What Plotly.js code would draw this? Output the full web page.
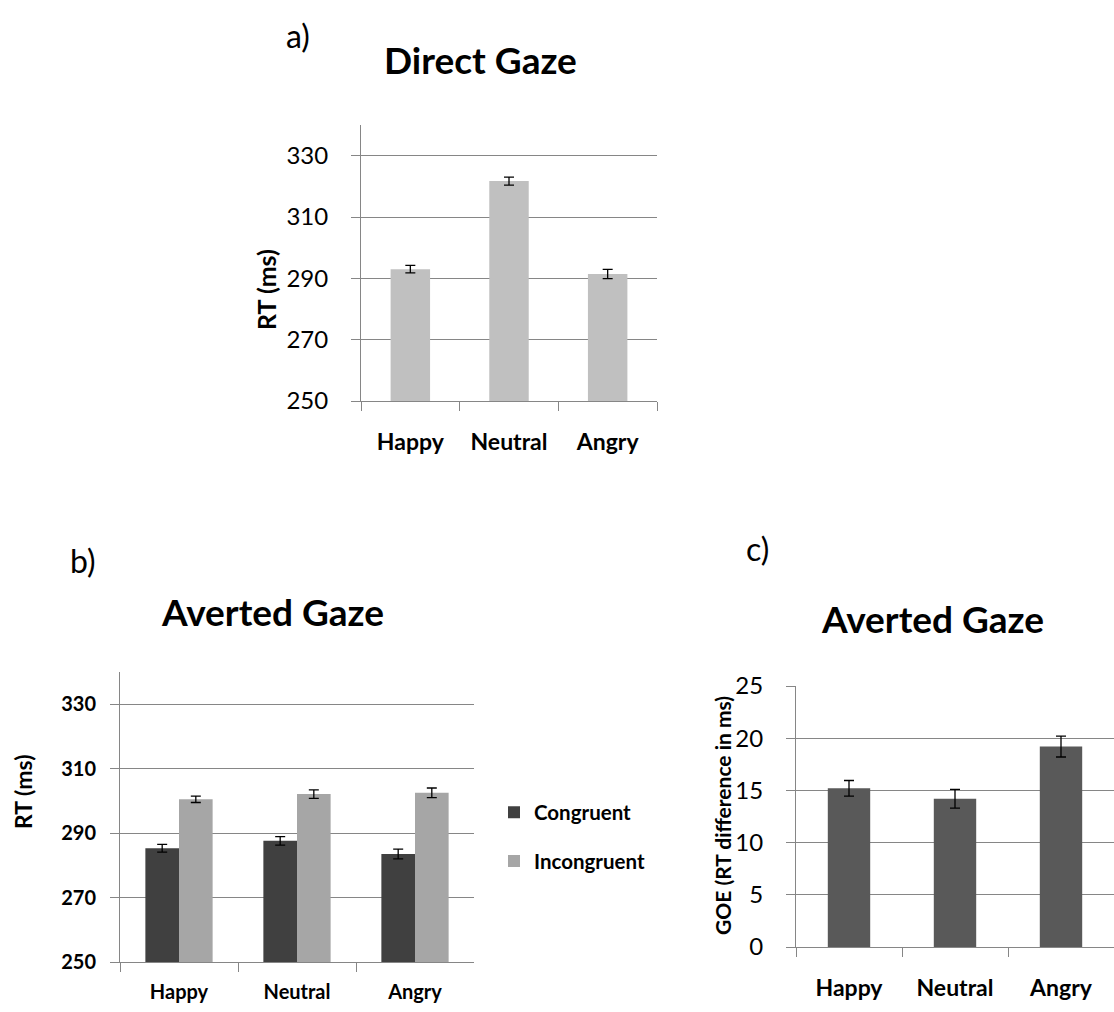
<!DOCTYPE html>
<html>
<head>
<meta charset="utf-8">
<script src="https://cdn.plot.ly/plotly-3.0.1.min.js"></script>
<style>
  html, body { margin: 0; padding: 0; background: #ffffff; }
  #chart { width: 1114px; height: 1012px; }
</style>
</head>
<body>
<div id="chart"></div>
<script>
// ---- data ----
const categories = ['Happy', 'Neutral', 'Angry'];

const directRT = [293.0, 321.7, 291.4];
const directErr = [1.2, 1.3, 1.5];

const avertedCongruentRT = [285.3, 287.6, 283.5];
const avertedCongruentErr = [1.2, 1.3, 1.5];
const avertedIncongruentRT = [300.5, 302.1, 302.5];
const avertedIncongruentErr = [1.0, 1.3, 1.5];

const goeValues = [15.2, 14.2, 19.2];
const goeErr = [0.75, 0.9, 1.0];

const rtTicks = [250, 270, 290, 310, 330];
const goeTicks = [0, 5, 10, 15, 20, 25];

// ---- styling ----
const W = 1114, H = 1012;
const FONT = 'Lato, "Open Sans", "DejaVu Sans", sans-serif';
const GRID = '#868686';
const px = v => v / W;
const py = v => 1 - v / H;

function errBar(arr) {
  return { type: 'data', array: arr, visible: true, color: '#000000', thickness: 1.3, width: 5 };
}

const traces = [
  {
    type: 'bar', x: categories, y: directRT, error_y: errBar(directErr),
    marker: { color: '#c0c0c0' }, width: 0.4, xaxis: 'x', yaxis: 'y',
    showlegend: false, name: 'Direct'
  },
  {
    type: 'bar', x: categories, y: avertedCongruentRT, error_y: errBar(avertedCongruentErr),
    marker: { color: '#404040' }, xaxis: 'x2', yaxis: 'y2',
    name: 'Congruent', legendgroup: 'c', showlegend: true
  },
  {
    type: 'bar', x: categories, y: avertedIncongruentRT, error_y: errBar(avertedIncongruentErr),
    marker: { color: '#a6a6a6' }, xaxis: 'x2', yaxis: 'y2',
    name: 'Incongruent', legendgroup: 'i', showlegend: true
  },
  {
    type: 'bar', x: categories, y: goeValues, error_y: errBar(goeErr),
    marker: { color: '#595959' }, width: 0.4, xaxis: 'x3', yaxis: 'y3',
    showlegend: false, name: 'GOE'
  }
];

function xAxis(domain, anchor, size, standoff) {
  return {
    domain: domain, anchor: anchor, type: 'category', range: [-0.5, 2.5],
    showline: true, linecolor: GRID, linewidth: 1,
    ticks: 'outside', tickson: 'boundaries', ticklen: 9, tickcolor: GRID, tickwidth: 1,
    showgrid: false, zeroline: false,
    tickfont: { family: FONT, size: size, color: '#000000', weight: 'bold' },
    ticklabelstandoff: standoff, fixedrange: true
  };
}
function yAxis(domain, anchor, range, ticks, size, bold, standoff) {
  return {
    domain: domain, anchor: anchor, range: range,
    tickmode: 'array', tickvals: ticks, ticktext: ticks.map(String),
    showline: true, linecolor: GRID, linewidth: 1,
    ticks: 'outside', ticklen: 9, tickcolor: GRID, tickwidth: 1,
    showgrid: true, gridcolor: GRID, gridwidth: 1, zeroline: false,
    tickfont: { family: FONT, size: size, color: '#000000', weight: bold ? 'bold' : 'normal' },
    ticklabelstandoff: standoff, fixedrange: true
  };
}

function ann(text, x, y, size, bold, angle) {
  return {
    xref: 'paper', yref: 'paper', x: px(x), y: py(y),
    xanchor: 'center', yanchor: 'middle', showarrow: false,
    text: text, textangle: angle || 0,
    font: { family: FONT, size: size, color: '#000000', weight: bold ? 'bold' : 'normal' }
  };
}

const layout = {
  width: W, height: H,
  margin: { l: 0, r: 0, t: 0, b: 0 },
  paper_bgcolor: '#ffffff', plot_bgcolor: 'rgba(0,0,0,0)',
  barmode: 'group', bargap: 0.43, bargroupgap: 0,
  font: { family: FONT },
  xaxis: xAxis([px(361), px(657)], 'y', 23, 20),
  yaxis: yAxis([py(401), py(125)], 'x', [250, 340], rtTicks, 24, false, 18),
  xaxis2: xAxis([px(120), px(474)], 'y2', 20, 12),
  yaxis2: yAxis([py(962), py(672)], 'x2', [250, 340], rtTicks, 20, true, 10),
  xaxis3: xAxis([px(796), 1], 'y3', 23, 20),
  yaxis3: yAxis([py(947), py(686)], 'x3', [0, 25], goeTicks, 24, false, 18),
  showlegend: true,
  legend: {
    x: px(494), xanchor: 'left', y: py(837), yanchor: 'middle',
    font: { family: FONT, size: 20.5, color: '#000000', weight: 'bold' },
    tracegroupgap: 19, bgcolor: 'rgba(0,0,0,0)', itemclick: false, itemdoubleclick: false
  },
  annotations: [
    ann('a)', 298, 35, 32, false),
    ann('Direct Gaze', 480, 59, 37, true),
    ann('RT (ms)', 266, 290, 25, true, -90),
    ann('b)', 83, 560, 32, false),
    ann('Averted Gaze', 272, 611, 37, true),
    ann('RT (ms)', 23, 792, 23, true, -90),
    ann('c)', 757, 548, 32, false),
    ann('Averted Gaze', 932, 618, 37, true),
    ann('GOE (RT difference in ms)', 722, 816, 21, true, -90)
  ]
};

Plotly.newPlot('chart', traces, layout, { displayModeBar: false, staticPlot: true });
</script>
</body>
</html>
